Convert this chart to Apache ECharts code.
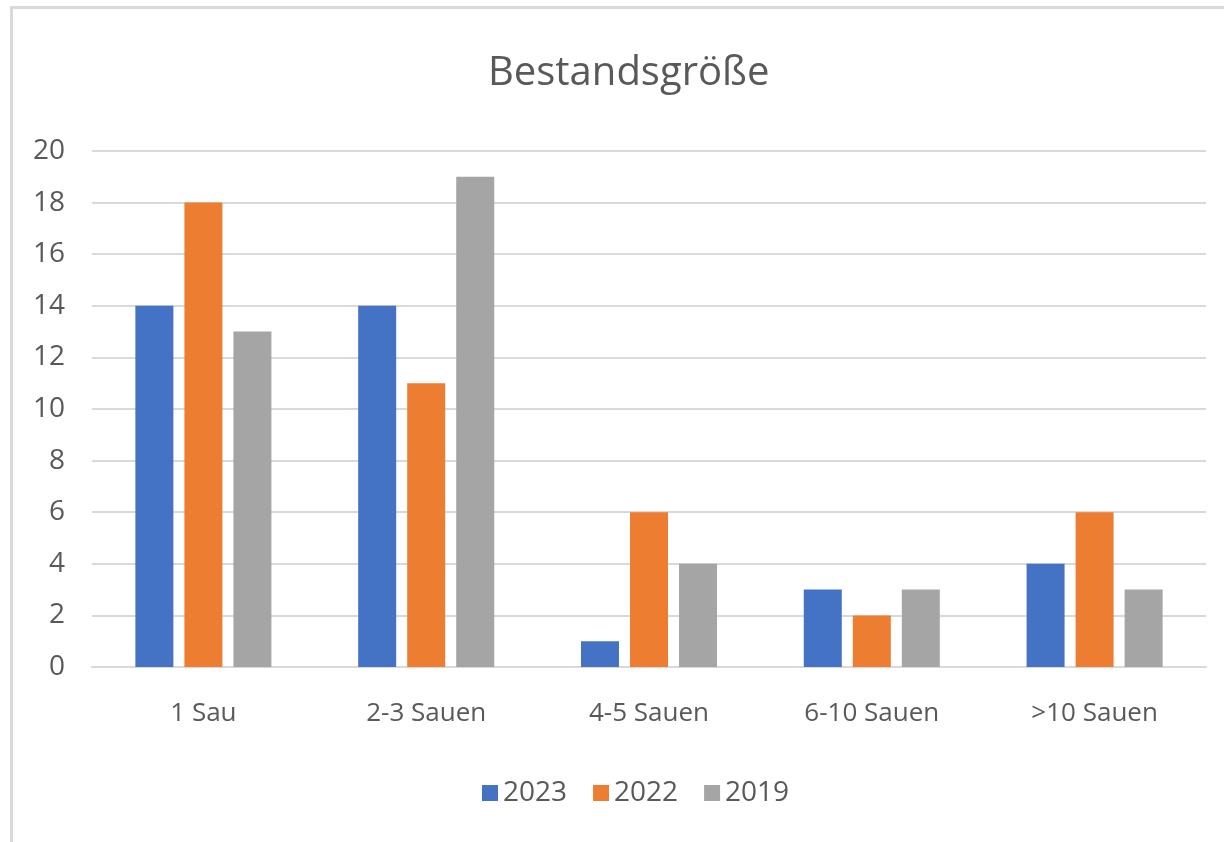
<!DOCTYPE html>
<html>
	<head>
		<meta charset="UTF-8">
		<title>Bestandsgröße</title>
		<script type="text/javascript" src="https://cdn.jsdelivr.net/npm/echarts@6/dist/echarts.min.js"></script>
		<style>
			body{margin:0;background:#fff;}
			#frame{position:absolute;left:10px;top:6px;width:1214px;height:836px;border-left:3px solid #d9d9d9;border-top:3px solid #d9d9d9;}
		</style>
	</head>
	<body>
		<div id="frame"></div>
		<div id="main" style="position:absolute;left:0;top:0;width:1224px;height:842px;"></div>
		<script type="text/javascript">
			var categories=['1 Sau','2-3 Sauen','4-5 Sauen','6-10 Sauen','>10 Sauen'];
			var values2023=[14,14,1,3,4];
			var values2022=[18,11,6,2,6];
			var values2019=[13,19,4,3,3];

			var myChart=echarts.init(document.getElementById('main'));
			var font='"Open Sans", "Noto Sans", sans-serif';

			var option={
				textStyle:{fontFamily:font},
				title:{
					text:'Bestandsgröße',
					left:483,
					top:49,
					textStyle:{fontSize:40,fontWeight:'normal',color:'#595959',fontFamily:font}
				},
				legend:{
					bottom:30,
					left:477,
					itemWidth:16,
					itemHeight:16,
					itemGap:26,
					icon:'rect',
					textStyle:{fontSize:28,color:'#595959',fontFamily:font},
					data:['2023','2022','2019']
				},
				grid:{left:92,right:18,top:151,bottom:175},
				xAxis:{
					type:'category',
					data:categories,
					axisLine:{lineStyle:{color:'#d9d9d9',width:2}},
					axisTick:{show:false},
					axisLabel:{fontSize:26,color:'#595959',margin:34,fontFamily:font}
				},
				yAxis:{
					type:'value',
					min:0,max:20,interval:2,
					axisLine:{show:false},
					axisTick:{show:false},
					axisLabel:{fontSize:28,color:'#595959',margin:27,fontFamily:font},
					splitLine:{lineStyle:{color:'#d9d9d9',width:2}}
				},
				series:[
					{name:'2023',type:'bar',data:values2023,itemStyle:{color:'#4472C4'},barWidth:38,barGap:'29%'},
					{name:'2022',type:'bar',data:values2022,itemStyle:{color:'#ED7D31'},barWidth:38,barGap:'29%'},
					{name:'2019',type:'bar',data:values2019,itemStyle:{color:'#A5A5A5'},barWidth:38,barGap:'29%'}
				]
			};
			myChart.setOption(option);
		</script>
	</body>
</html>
